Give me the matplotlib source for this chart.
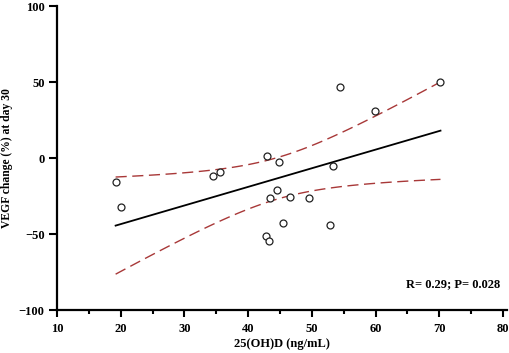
import numpy as np
import matplotlib
matplotlib.use("Agg")
import matplotlib.pyplot as plt
from matplotlib.ticker import MultipleLocator

# 25(OH)D (ng/mL) vs VEGF change (%) at day 30
vitd = [19.2, 20.05, 34.5, 35.6, 42.9, 44.9, 54.5, 59.9, 70.2, 53.4,
        44.6, 43.4, 46.5, 49.6, 45.5, 52.9, 42.8, 43.3]
vegf = [-15.8, -32.0, -11.8, -9.4, 1.3, -2.8, 46.7, 31.1, 50.2, -5.3,
        -20.8, -26.3, -25.9, -26.1, -42.8, -43.9, -51.3, -54.4]
stats_text = "R= 0.29; P= 0.028"
T_975 = 2.12  # t(0.975, df=16)

plt.rcParams['font.family'] = ['Liberation Serif', 'DejaVu Serif']
plt.rcParams['font.weight'] = 'bold'


def fit_with_ci(x, y):
    x = np.asarray(x)
    y = np.asarray(y)
    n = len(x)
    slope, intercept = np.polyfit(x, y, 1)
    resid = y - (slope * x + intercept)
    s = np.sqrt(np.sum(resid ** 2) / (n - 2))
    sxx = np.sum((x - x.mean()) ** 2)
    xs = np.linspace(x.min(), x.max(), 100)
    ys = slope * xs + intercept
    half = T_975 * s * np.sqrt(1.0 / n + (xs - x.mean()) ** 2 / sxx)
    return xs, ys, ys - half, ys + half


fig = plt.figure(figsize=(5.1, 3.53), dpi=100)
ax = fig.add_axes([0.1118, 0.1218, 0.8818, 0.8612])

xs, ys, lo, hi = fit_with_ci(vitd, vegf)
red = '#a83838'
ax.plot(xs, hi, color=red, lw=1.0, dashes=(8, 4))
ax.plot(xs, lo, color=red, lw=1.0, dashes=(8, 4))
ax.plot(xs, ys, color='black', lw=1.3)
ax.plot(vitd, vegf, 'o', mfc='white', mec='#222222', mew=0.9, ms=5)

ax.set_xlim(10, 80.6)
ax.set_ylim(-100, 100)
ax.xaxis.set_major_locator(MultipleLocator(10))
ax.xaxis.set_minor_locator(MultipleLocator(5))
ax.yaxis.set_major_locator(MultipleLocator(50))

for side in ['top', 'right']:
    ax.spines[side].set_visible(False)
for side in ['left', 'bottom']:
    ax.spines[side].set_linewidth(1.6)

ax.tick_params(axis='y', which='major', length=6, width=1.5, pad=3, labelsize=9)
ax.tick_params(axis='x', which='major', length=5, width=1.5, pad=4, labelsize=9)
ax.tick_params(axis='x', which='minor', length=3, width=1.5)
for lab in ax.get_xticklabels() + ax.get_yticklabels():
    lab.set_fontweight('bold')

ax.set_xlabel("25(OH)D (ng/mL)", fontsize=9, fontweight='bold')
ax.set_ylabel("VEGF change (%) at day 30", fontsize=8.4, fontweight='bold')
ax.xaxis.set_label_coords(0.5, -0.093)
ax.yaxis.set_label_coords(-0.097, 0.5)
ax.text(0.985, 0.085, stats_text, transform=ax.transAxes, ha='right', va='center',
        fontsize=9, fontweight='bold')

fig.savefig("out.png", dpi=100)
